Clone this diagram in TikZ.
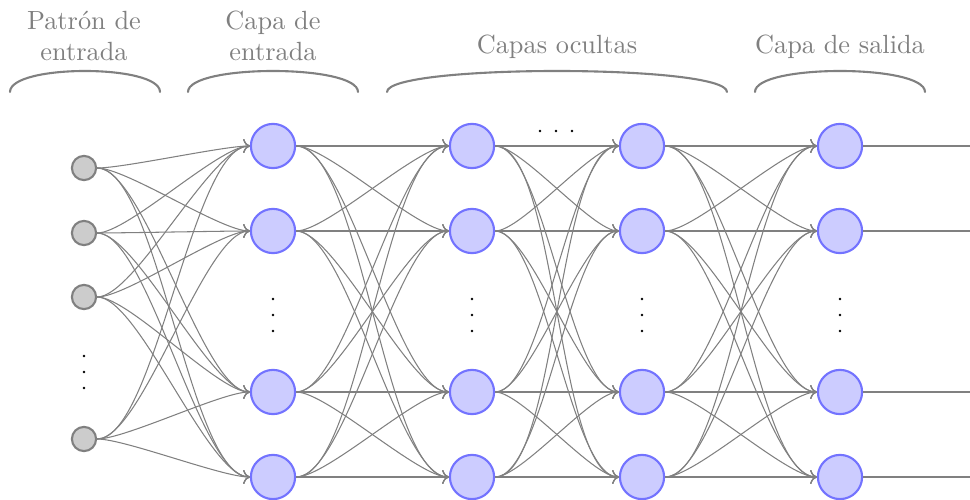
\documentclass[tikz,border=0pt]{standalone}
\usepackage{tikz}
\usetikzlibrary{arrows.meta}
\tikzset{
  inp/.style={circle,draw=gray,fill=gray!40,thick,minimum size=9.2pt,inner sep=0pt},
  neu/.style={circle,draw=blue!55,fill=blue!20,thick,minimum size=16.8pt,inner sep=0pt},
  syn/.style={gray,->,out=0,in=180,looseness=0.45},
  ttl/.style={text=gray,align=center},
  grp/.style={gray,thick,line cap=round},
  dot/.style={black}
}
\newcommand{\grp}[2]{\draw[grp] (#1,92) .. controls (#1,64) and (#2,64) .. (#2,92);}
\newcommand{\vdts}[2]{\foreach \k in {0,16,32} \fill[dot] (#1,#2+\k) circle[radius=0.55pt];}

\begin{document}
\begin{tikzpicture}[x=0.38pt,y=-0.38pt]
\useasboundingbox (0,0) rectangle (970,500);
% titles
\node[ttl] (tin) at (84,36) {Patrón de\\entrada};
\node[ttl] (tca) at (273,36) {Capa de\\entrada};
\node[ttl] (toc) at (557,47) {Capas ocultas};
\node[ttl] (tsa) at (840,47) {Capa de salida};
\grp{10}{160} \grp{188}{358} \grp{387}{727} \grp{755}{925}
% neurons
\foreach \n/\y in {1/168,2/233,3/297,4/439} \node[inp] (i\n) at (84,\y) {};
\foreach \n/\y in {1/146,2/231,3/392,4/477} {
  \node[neu] (a\n) at (273,\y) {};
  \node[neu] (b\n) at (472,\y) {};
  \node[neu] (c\n) at (642,\y) {};
  \node[neu] (o\n) at (840,\y) {};
  \coordinate (e\n) at (970,\y);
}
% connections
\foreach \s in {1,...,4} {
  \foreach \t in {1,...,4} {
    \draw[syn] (i\s) to (a\t);
    \draw[syn] (a\s) to (b\t);
    \draw[syn] (b\s) to (c\t);
    \draw[syn] (c\s) to (o\t);
  }
  \draw[gray] (o\s) -- (e\s);
}
% dots
\vdts{84}{356}
\vdts{273}{299} \vdts{472}{299} \vdts{642}{299} \vdts{840}{299}
\foreach \x in {540,556,572} \fill[dot] (\x,131) circle[radius=0.55pt];
\end{tikzpicture}
\end{document}
